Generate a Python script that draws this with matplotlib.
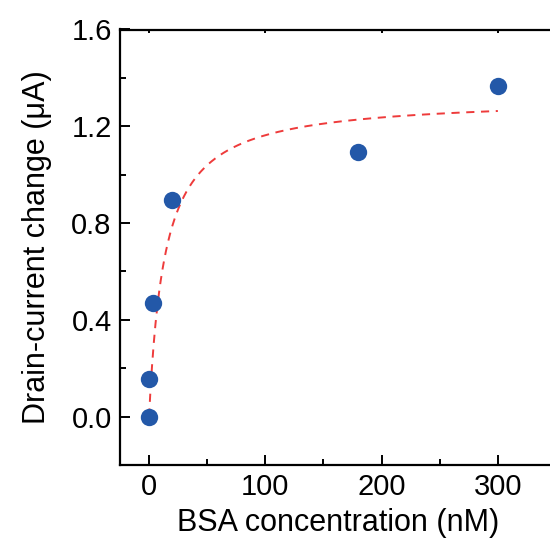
import numpy as np
import matplotlib
matplotlib.use("Agg")
import matplotlib.pyplot as plt
from matplotlib.ticker import MultipleLocator

plt.rcParams['font.family'] = ['Liberation Sans', 'DejaVu Sans']

# Measured drain-current change vs BSA concentration
bsa_nM = [0, 0.3, 3, 20, 180, 300]
delta_current_uA = [0.0, 0.155, 0.47, 0.897, 1.095, 1.366]

# Langmuir binding fit parameters
fit_bmax_uA = 1.32
fit_kd_nM = 13.5

x_label = "BSA concentration (nM)"
y_label = "Drain-current change (\u03bcA)"
x_ticks = [0, 100, 200, 300]
y_ticks = [0.0, 0.4, 0.8, 1.2, 1.6]

fig = plt.figure(figsize=(5.5, 5.44), dpi=100)
ax = fig.add_axes([120 / 550, 79 / 544, 436 / 550, 435.5 / 544])

xf = np.linspace(0, 300, 600)
yf = fit_bmax_uA * xf / (fit_kd_nM + xf)
ax.plot(xf, yf, color='#EE3B3B', lw=1.4, ls=(0, (4.2, 3.4)), zorder=2)

ax.plot(bsa_nM, delta_current_uA, 'o', ms=12.5, color='#2358A8',
        markeredgewidth=0, zorder=3)

ax.set_xlim(-25, 350)
ax.set_ylim(-0.2, 1.6)
ax.set_xticks(x_ticks)
ax.set_yticks(y_ticks)
ax.set_yticklabels([f"{v:.1f}" for v in y_ticks])
ax.xaxis.set_minor_locator(MultipleLocator(50))
ax.yaxis.set_minor_locator(MultipleLocator(0.2))

for s in ax.spines.values():
    s.set_linewidth(1.6)
ax.spines['right'].set_visible(False)

ax.tick_params(which='both', direction='in', top=True, right=False,
               width=1.4, labelsize=21, pad=6, colors='black')
ax.tick_params(which='major', length=7)
ax.tick_params(which='minor', length=4.5)
ax.tick_params(axis='x', which='both', labeltop=False)
# top-side ticks are very short
for t in ax.xaxis.get_major_ticks():
    t.tick2line.set_markersize(2)
for t in ax.xaxis.get_minor_ticks():
    t.tick2line.set_markersize(0)

ax.set_xlabel(x_label, fontsize=22, labelpad=5)
ax.set_ylabel(y_label, fontsize=22, labelpad=14)

fig.savefig("out.png", dpi=100)
